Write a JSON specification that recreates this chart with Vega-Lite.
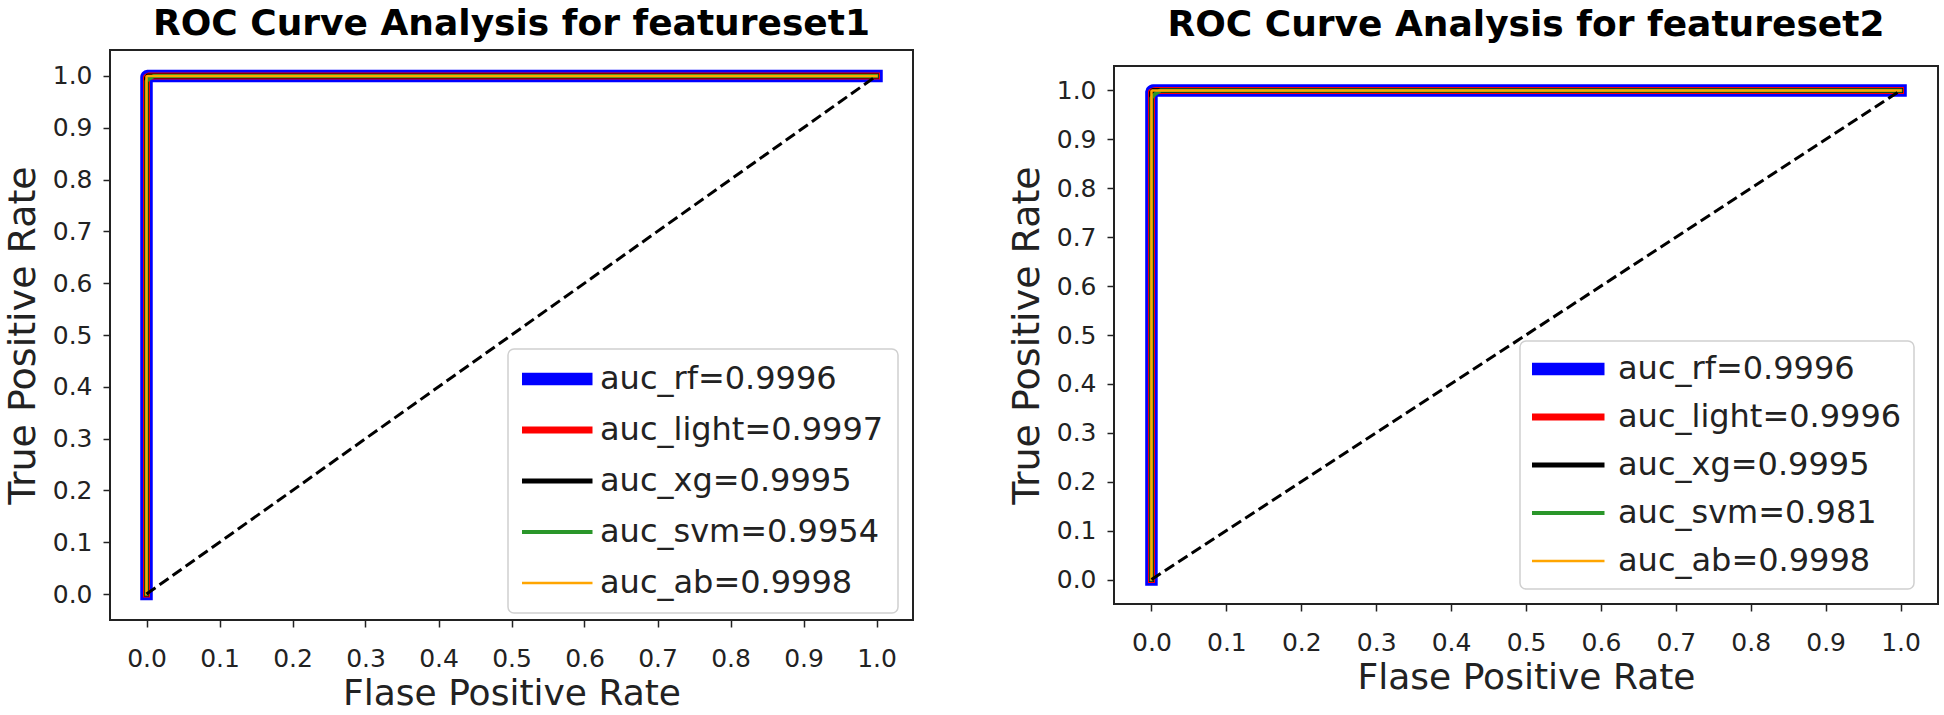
{
  "$schema": "https://vega.github.io/schema/vega-lite/v6.json",
  "padding": {"left": 3, "top": 5, "right": 0, "bottom": 0},
  "background": "white",
  "datasets": {
    "c1": [
      {"m": "rf", "l": "auc_rf=0.9996", "i": 0, "x": 0, "y": 0},
      {"m": "rf", "l": "auc_rf=0.9996", "i": 1, "x": 0, "y": 0.998},
      {"m": "rf", "l": "auc_rf=0.9996", "i": 2, "x": 0.001, "y": 1},
      {"m": "rf", "l": "auc_rf=0.9996", "i": 3, "x": 1, "y": 1},
      {"m": "light", "l": "auc_light=0.9997", "i": 0, "x": 0, "y": 0},
      {"m": "light", "l": "auc_light=0.9997", "i": 1, "x": 0, "y": 0.997},
      {"m": "light", "l": "auc_light=0.9997", "i": 2, "x": 0.002, "y": 0.999},
      {"m": "light", "l": "auc_light=0.9997", "i": 3, "x": 0.004, "y": 1},
      {"m": "light", "l": "auc_light=0.9997", "i": 4, "x": 1, "y": 1},
      {"m": "xg", "l": "auc_xg=0.9995", "i": 0, "x": 0, "y": 0},
      {"m": "xg", "l": "auc_xg=0.9995", "i": 1, "x": 0, "y": 0.996},
      {"m": "xg", "l": "auc_xg=0.9995", "i": 2, "x": 0.002, "y": 1},
      {"m": "xg", "l": "auc_xg=0.9995", "i": 3, "x": 1, "y": 1},
      {"m": "svm", "l": "auc_svm=0.9954", "i": 0, "x": 0, "y": 0},
      {"m": "svm", "l": "auc_svm=0.9954", "i": 1, "x": 0, "y": 0.99},
      {"m": "svm", "l": "auc_svm=0.9954", "i": 2, "x": 0.004, "y": 0.995},
      {"m": "svm", "l": "auc_svm=0.9954", "i": 3, "x": 0.01, "y": 1},
      {"m": "svm", "l": "auc_svm=0.9954", "i": 4, "x": 1, "y": 1},
      {"m": "ab", "l": "auc_ab=0.9998", "i": 0, "x": 0, "y": 0},
      {"m": "ab", "l": "auc_ab=0.9998", "i": 1, "x": 0, "y": 0.999},
      {"m": "ab", "l": "auc_ab=0.9998", "i": 2, "x": 0.002, "y": 1},
      {"m": "ab", "l": "auc_ab=0.9998", "i": 3, "x": 1, "y": 1}
    ],
    "c2": [
      {"m": "rf", "l": "auc_rf=0.9996", "i": 0, "x": 0, "y": 0},
      {"m": "rf", "l": "auc_rf=0.9996", "i": 1, "x": 0, "y": 0.998},
      {"m": "rf", "l": "auc_rf=0.9996", "i": 2, "x": 0.002, "y": 1},
      {"m": "rf", "l": "auc_rf=0.9996", "i": 3, "x": 1, "y": 1},
      {"m": "light", "l": "auc_light=0.9996", "i": 0, "x": 0, "y": 0},
      {"m": "light", "l": "auc_light=0.9996", "i": 1, "x": 0, "y": 0.997},
      {"m": "light", "l": "auc_light=0.9996", "i": 2, "x": 0.003, "y": 0.999},
      {"m": "light", "l": "auc_light=0.9996", "i": 3, "x": 0.005, "y": 1},
      {"m": "light", "l": "auc_light=0.9996", "i": 4, "x": 1, "y": 1},
      {"m": "xg", "l": "auc_xg=0.9995", "i": 0, "x": 0, "y": 0},
      {"m": "xg", "l": "auc_xg=0.9995", "i": 1, "x": 0, "y": 0.996},
      {"m": "xg", "l": "auc_xg=0.9995", "i": 2, "x": 0.002, "y": 1},
      {"m": "xg", "l": "auc_xg=0.9995", "i": 3, "x": 1, "y": 1},
      {"m": "svm", "l": "auc_svm=0.981", "i": 0, "x": 0, "y": 0},
      {"m": "svm", "l": "auc_svm=0.981", "i": 1, "x": 0, "y": 0.985},
      {"m": "svm", "l": "auc_svm=0.981", "i": 2, "x": 0.005, "y": 0.993},
      {"m": "svm", "l": "auc_svm=0.981", "i": 3, "x": 0.012, "y": 1},
      {"m": "svm", "l": "auc_svm=0.981", "i": 4, "x": 1, "y": 1},
      {"m": "ab", "l": "auc_ab=0.9998", "i": 0, "x": 0, "y": 0},
      {"m": "ab", "l": "auc_ab=0.9998", "i": 1, "x": 0, "y": 0.999},
      {"m": "ab", "l": "auc_ab=0.9998", "i": 2, "x": 0.001, "y": 1},
      {"m": "ab", "l": "auc_ab=0.9998", "i": 3, "x": 1, "y": 1}
    ],
    "diag": [
      {"x": 0, "y": 0, "i": 0},
      {"x": 1, "y": 1, "i": 1}
    ]
  },
  "hconcat": [
    {
      "width": 803,
      "height": 570,
      "title": {"text": "ROC Curve Analysis for featureset1", "offset": 7},
      "data": {"name": "c1"},
      "encoding": {
        "x": {"field": "x", "type": "quantitative", "scale": {"domain": [-0.05, 1.05], "nice": false, "zero": false},
              "axis": {"title": "Flase Positive Rate", "values": [0, 0.1, 0.2, 0.3, 0.4, 0.5, 0.6, 0.7, 0.8, 0.9, 1], "format": ".1f"}},
        "y": {"field": "y", "type": "quantitative", "scale": {"domain": [-0.05, 1.05], "nice": false, "zero": false},
              "axis": {"title": "True Positive Rate", "values": [0, 0.1, 0.2, 0.3, 0.4, 0.5, 0.6, 0.7, 0.8, 0.9, 1], "format": ".1f"}},
        "color": {"field": "l", "type": "nominal",
                  "scale": {"domain": ["auc_rf=0.9996", "auc_light=0.9997", "auc_xg=0.9995", "auc_svm=0.9954", "auc_ab=0.9998"],
                            "range": ["#0000ff", "#ff0000", "#000000", "#2a962a", "#ffa500"]},
                  "legend": {"title": null, "orient": "none", "legendX": 398, "legendY": 299, "padding": 14, "rowPadding": 19, "clipHeight": 32, "labelFontSize": 32, "symbolOffset": -10, "labelOffset": 1}},
        "strokeWidth": {"field": "l", "type": "nominal",
                  "scale": {"type": "ordinal", "domain": ["auc_rf=0.9996", "auc_light=0.9997", "auc_xg=0.9995", "auc_svm=0.9954", "auc_ab=0.9998"],
                            "range": [12.5, 7, 5, 4, 2.5]},
                  "legend": {"title": null, "orient": "none", "legendX": 398, "legendY": 299, "padding": 14, "rowPadding": 19, "clipHeight": 32, "labelFontSize": 32, "symbolOffset": -10, "labelOffset": 1}},
        "order": {"field": "i", "type": "quantitative"}
      },
      "layer": [
        {"transform": [{"filter": "datum.m == 'rf'"}], "mark": {"type": "line", "strokeCap": "square", "strokeJoin": "round"}},
        {"transform": [{"filter": "datum.m == 'light'"}], "mark": {"type": "line", "strokeCap": "square", "strokeJoin": "round"}},
        {"transform": [{"filter": "datum.m == 'xg'"}], "mark": {"type": "line", "strokeCap": "square", "strokeJoin": "round"}},
        {"transform": [{"filter": "datum.m == 'svm'"}], "mark": {"type": "line", "strokeCap": "square", "strokeJoin": "round"}},
        {"transform": [{"filter": "datum.m == 'ab'"}], "mark": {"type": "line", "strokeCap": "square", "strokeJoin": "round"}},
        {"data": {"name": "diag"}, "mark": {"type": "line", "strokeDash": [11, 5]},
         "encoding": {"color": {"value": "#000000"}, "strokeWidth": {"value": 3}}}
      ]
    },
    {
      "width": 824,
      "height": 538,
      "title": {"text": "ROC Curve Analysis for featureset2", "offset": 22},
      "data": {"name": "c2"},
      "encoding": {
        "x": {"field": "x", "type": "quantitative", "scale": {"domain": [-0.05, 1.05], "nice": false, "zero": false},
              "axis": {"title": "Flase Positive Rate", "values": [0, 0.1, 0.2, 0.3, 0.4, 0.5, 0.6, 0.7, 0.8, 0.9, 1], "format": ".1f"}},
        "y": {"field": "y", "type": "quantitative", "scale": {"domain": [-0.05, 1.05], "nice": false, "zero": false},
              "axis": {"title": "True Positive Rate", "values": [0, 0.1, 0.2, 0.3, 0.4, 0.5, 0.6, 0.7, 0.8, 0.9, 1], "format": ".1f"}},
        "color": {"field": "l", "type": "nominal",
                  "scale": {"domain": ["auc_rf=0.9996", "auc_light=0.9996", "auc_xg=0.9995", "auc_svm=0.981", "auc_ab=0.9998"],
                            "range": ["#0000ff", "#ff0000", "#000000", "#2a962a", "#ffa500"]},
                  "legend": {"title": null, "orient": "none", "legendX": 406, "legendY": 275, "padding": 12, "rowPadding": 16, "clipHeight": 32, "labelFontSize": 32, "symbolOffset": -8, "labelOffset": 7}},
        "strokeWidth": {"field": "l", "type": "nominal",
                  "scale": {"type": "ordinal", "domain": ["auc_rf=0.9996", "auc_light=0.9996", "auc_xg=0.9995", "auc_svm=0.981", "auc_ab=0.9998"],
                            "range": [12.5, 7, 5, 4, 2.5]},
                  "legend": {"title": null, "orient": "none", "legendX": 406, "legendY": 275, "padding": 12, "rowPadding": 16, "clipHeight": 32, "labelFontSize": 32, "symbolOffset": -8, "labelOffset": 7}},
        "order": {"field": "i", "type": "quantitative"}
      },
      "layer": [
        {"transform": [{"filter": "datum.m == 'rf'"}], "mark": {"type": "line", "strokeCap": "square", "strokeJoin": "round"}},
        {"transform": [{"filter": "datum.m == 'light'"}], "mark": {"type": "line", "strokeCap": "square", "strokeJoin": "round"}},
        {"transform": [{"filter": "datum.m == 'xg'"}], "mark": {"type": "line", "strokeCap": "square", "strokeJoin": "round"}},
        {"transform": [{"filter": "datum.m == 'svm'"}], "mark": {"type": "line", "strokeCap": "square", "strokeJoin": "round"}},
        {"transform": [{"filter": "datum.m == 'ab'"}], "mark": {"type": "line", "strokeCap": "square", "strokeJoin": "round"}},
        {"data": {"name": "diag"}, "mark": {"type": "line", "strokeDash": [11, 5]},
         "encoding": {"color": {"value": "#000000"}, "strokeWidth": {"value": 3}}}
      ]
    }
  ],
  "spacing": 93,
  "center": true,
  "resolve": {
    "scale": {"x": "independent", "y": "independent", "color": "independent", "strokeWidth": "independent"},
    "legend": {"color": "independent", "strokeWidth": "independent"}
  },
  "config": {
    "font": "DejaVu Sans",
    "view": {"stroke": "#222222", "strokeWidth": 2},
    "axis": {"domain": false, "grid": false, "ticks": true, "tickColor": "#222222", "tickWidth": 1.5, "tickSize": 7,
             "labelFont": "DejaVu Sans", "labelFontSize": 25, "labelColor": "#222222", "labelPadding": 11,
             "labelFlush": false, "labelOverlap": false,
             "titleFont": "DejaVu Sans", "titleFontWeight": "normal", "titleColor": "#222222"},
    "axisX": {"labelPadding": 19, "titlePadding": 5, "titleFontSize": 36},
    "axisY": {"titlePadding": 10, "titleFontSize": 38},
    "title": {"font": "DejaVu Sans", "fontSize": 36, "fontWeight": "bold", "color": "#000000", "anchor": "middle"},
    "legend": {"symbolType": "stroke", "symbolSize": 5476, "labelFont": "DejaVu Sans", "labelColor": "#222222",
               "labelLimit": 600, "fillColor": "#ffffff", "strokeColor": "#d0d0d0", "cornerRadius": 6, "strokeWidth": 1.5}
  }
}
